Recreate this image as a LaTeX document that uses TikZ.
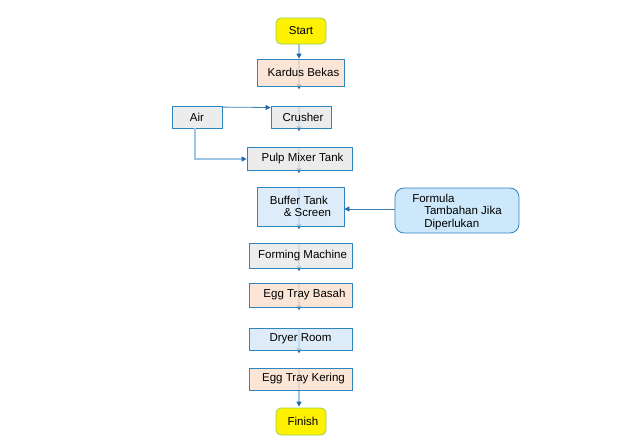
\documentclass[tikz,border=0pt]{standalone}
\usepackage{fontspec}
\setmainfont{Liberation Sans}
\usepackage{xcolor}
\definecolor{flowblue}{RGB}{46,134,193}
\definecolor{flowline}{RGB}{157,195,230}
\definecolor{flowtip}{RGB}{31,105,170}
\definecolor{flowpeach}{RGB}{249,220,200}
\definecolor{flowgray}{RGB}{230,230,230}
\definecolor{flowsky}{RGB}{210,229,245}
\definecolor{flowcyan}{RGB}{204,232,250}
\definecolor{flowgreen}{RGB}{146,208,80}
\usetikzlibrary{arrows.meta, positioning, backgrounds}

\begin{document}
\begin{tikzpicture}[x=1pt, y=-1pt,
  box/.style={draw=flowblue, line width=0.8pt, inner sep=1pt, fill opacity=0.75, text opacity=1, font=\fontsize{11.5}{12.5}\selectfont},
  terminal/.style={box, fill=yellow, fill opacity=1, draw=flowgreen, rounded corners=5pt, minimum width=50pt, minimum height=26pt},
  flow/.style={draw=flowline, line width=1.2pt, -{Triangle[length=5pt, width=5pt, color=flowtip]}},
  feed/.style={draw=flowblue!80!gray, line width=0.8pt, -{Triangle[length=5pt, width=5pt, color=flowtip]}}]
  \useasboundingbox (0,0) rectangle (633,439);

  % main line
  \node[terminal] (start) at (301,31) {Start};
  \node[box, fill=flowpeach, minimum width=87pt, minimum height=27pt] (kardus) at (300.5,72.5) {\hspace{6pt}Kardus Bekas};
  \node[box, fill=flowgray, minimum width=50pt, minimum height=22pt] (air) at (197,117) {Air};
  \node[box, fill=flowgray, minimum width=60pt, minimum height=22pt] (crusher) at (301,117) {\hspace{4pt}Crusher};
  \node[box, fill=flowgray, minimum width=105pt, minimum height=23pt] (pulp) at (299.5,158.5) {\hspace{6pt}Pulp Mixer Tank};
  \node[box, fill=flowsky, minimum width=87pt, minimum height=39pt, align=left] (buffer) at (300.5,206.5) {Buffer Tank\\\hspace{14pt}\& Screen};
  \node[box, fill=flowgray, minimum width=103pt, minimum height=25pt] (forming) at (300.5,255.5) {\hspace{4pt}Forming Machine};
  \node[box, fill=flowpeach, minimum width=103pt, minimum height=24pt] (basah) at (300.5,295) {\hspace{8pt}Egg Tray Basah};
  \node[box, fill=flowsky, minimum width=103pt, minimum height=22pt] (dryer) at (300.5,339) {Dryer Room};
  \node[box, fill=flowpeach, minimum width=103pt, minimum height=22pt] (kering) at (300.5,379) {\hspace{6pt}Egg Tray Kering};
  \node[terminal, minimum height=27pt] (finish) at (301,421.5) {\hspace{4pt}Finish};

  % side input
  \node[box, fill=flowcyan, fill opacity=1, rounded corners=9pt, minimum width=124pt, minimum height=45pt, align=left, text depth=0pt] (formula) at (457,210.5) {Formula\\\hspace{12pt}Tambahan Jika\\\hspace{12pt}Diperlukan};

  % connectors
  \begin{pgfonlayer}{background}
  \draw[flow] (start.south -| 299,0) -- (kardus.north -| 299,0);
  \foreach \b in {kardus, crusher, pulp, buffer, forming, basah, dryer}
    \draw[flow] (\b.north -| 299,0) -- ([yshift=-3pt]\b.south -| 299,0);
  \draw[flow] (kering.north -| 299,0) -- ([yshift=1pt]finish.north -| 299,0);
  \end{pgfonlayer}
  \draw[feed] ([yshift=-1.5pt]air.north east) -- (crusher.west |- 0,107.5);
  \draw[flow] (air.south -| 195,0) |- (pulp.west |- 0,159);
  \draw[feed] (formula.west |- 0,209) -- (buffer.east |- 0,209);
\end{tikzpicture}
\end{document}
